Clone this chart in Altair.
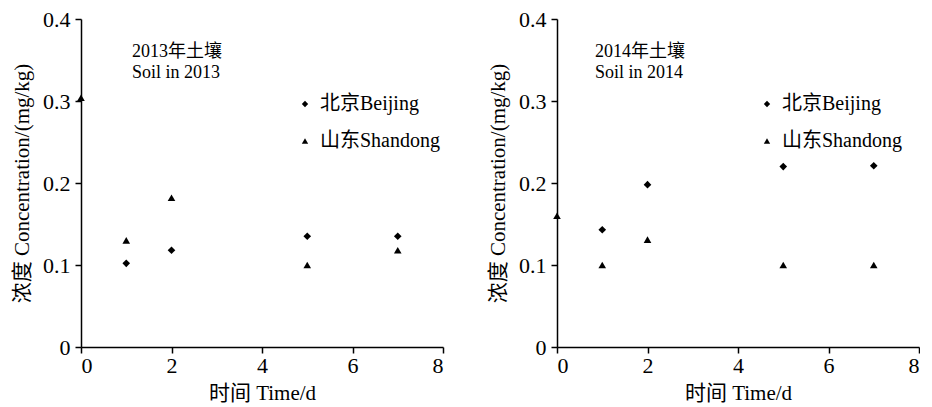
import altair as alt
import pandas as pd

days = [0, 1, 2, 5, 7]
series = ["北京Beijing", "山东Shandong"]

bj_2013 = [None, 0.102, 0.118, 0.135, 0.135]
sd_2013 = [0.304, 0.130, 0.182, 0.100, 0.118]
bj_2014 = [None, 0.143, 0.198, 0.220, 0.221]
sd_2014 = [0.160, 0.100, 0.131, 0.100, 0.100]

note_2013 = ["2013年土壤", "Soil in 2013"]
note_2014 = ["2014年土壤", "Soil in 2014"]

x_ticks = [0, 2, 4, 6, 8]
y_ticks = [0, 0.1, 0.2, 0.3, 0.4]
x_title = "时间 Time/d"
y_title = "浓度 Concentration/(mg/kg)"

FONT = "Liberation Serif, Noto Sans CJK SC"


def make_df(bj, sd):
    rows = []
    for name, vals in zip(series, [bj, sd]):
        for d, v in zip(days, vals):
            if v is not None:
                rows.append({"day": d, "value": v, "series": name})
    return pd.DataFrame(rows)


def panel(bj, sd, note, note_x, legend_x):
    df = make_df(bj, sd)
    points = alt.Chart(df).mark_point(filled=True, opacity=1, color="black", size=58).encode(
        x=alt.X("day:Q", scale=alt.Scale(domain=[0, 8], nice=False),
                axis=alt.Axis(values=x_ticks, title=x_title, titlePadding=6)),
        y=alt.Y("value:Q", scale=alt.Scale(domain=[0, 0.4], nice=False),
                axis=alt.Axis(values=y_ticks, format=".1~f", title=y_title, titlePadding=10,
                              labelPadding=5)),
        shape=alt.Shape("series:N",
                        scale=alt.Scale(domain=series, range=["diamond", "triangle-up"]),
                        legend=alt.Legend(title=None, orient="none", legendX=legend_x, legendY=75,
                                          symbolSize=40, symbolFillColor="black",
                                          symbolStrokeColor="black",
                                          labelFont=FONT,
                                          labelFontSize=20, labelColor="black",
                                          labelOffset=5, rowPadding=17, padding=0)),
    )
    text = alt.Chart(pd.DataFrame({"a": [0]})).mark_text(
        text=note, align="left", baseline="top", font=FONT, fontSize=18,
        lineHeight=21, color="black"
    ).encode(x=alt.value(note_x), y=alt.value(24))
    return alt.layer(points, text).properties(width=362, height=328)


left = panel(bj_2013, sd_2013, note_2013, 51, 214)
right = panel(bj_2014, sd_2014, note_2014, 38, 200)

chart = alt.hconcat(left, right, spacing=43).resolve_scale(shape="independent").resolve_legend(
    shape="independent"
).properties(padding={"left": 3, "top": 0, "right": 0, "bottom": 0}).configure_view(stroke=None).configure_axis(
    grid=False, domainColor="black", domainWidth=1.5, tickColor="black", tickWidth=1.5, tickSize=6,
    labelColor="black", titleColor="black", labelFont=FONT, titleFont=FONT, labelFontSize=22,
    titleFontSize=21, titleFontWeight="normal", labelPadding=2
)

chart.save("out.html", embed_options={"renderer": "svg", "actions": False})
